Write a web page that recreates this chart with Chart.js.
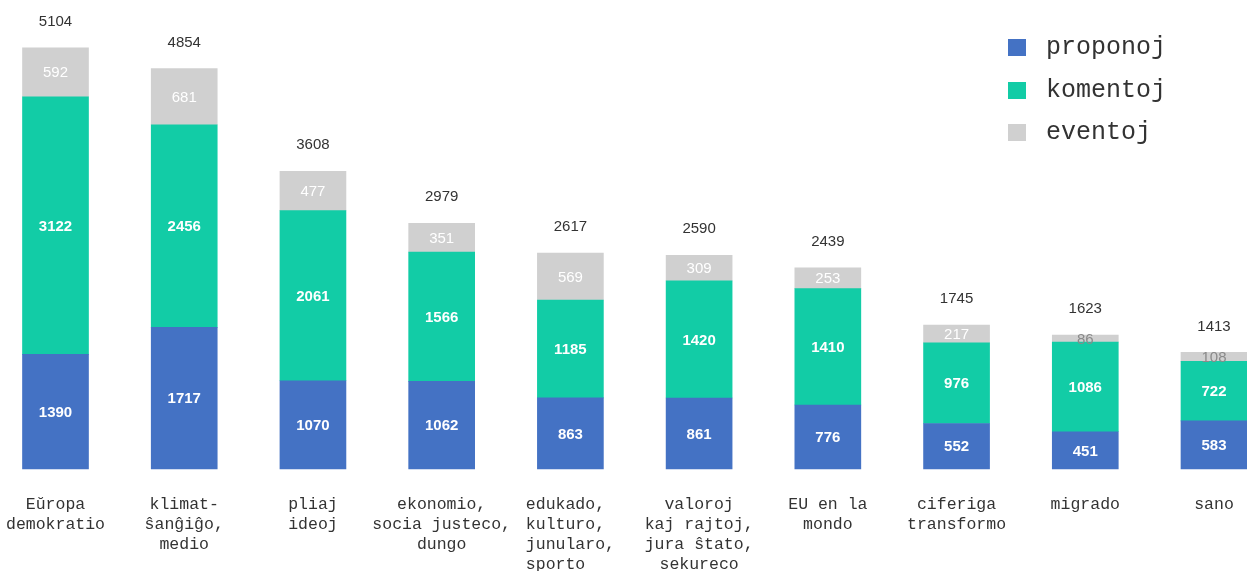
<!DOCTYPE html>
<html>
<head>
<meta charset="utf-8">
<script src="https://cdn.jsdelivr.net/npm/chart.js@4/dist/chart.umd.min.js"></script>
<style>
  html, body { margin: 0; padding: 0; background: #ffffff; }
  #wrap { width: 1247px; height: 571px; position: relative; }
</style>
</head>
<body>
<div id="wrap"><canvas id="c" width="1247" height="571"></canvas></div>
<script>
const categories = [
  ["Eŭropa", "demokratio"],
  ["klimat-", "ŝanĝiĝo,", "medio"],
  ["pliaj", "ideoj"],
  ["ekonomio,", "socia justeco,", "dungo"],
  ["edukado, ", "kulturo, ", "junularo,", "sporto   "],
  ["valoroj", "kaj rajtoj,", "jura ŝtato,", "sekureco"],
  ["EU en la", "mondo"],
  ["ciferiga", "transformo"],
  ["migrado"],
  ["sano"]
];
const proponoj = [1390, 1717, 1070, 1062, 863, 861, 776, 552, 451, 583];
const komentoj = [3122, 2456, 2061, 1566, 1185, 1420, 1410, 976, 1086, 722];
const eventoj  = [592, 681, 477, 351, 569, 309, 253, 217, 86, 108];
const seriesNames = ["proponoj", "komentoj", "eventoj"];

const colors = ["#4472C4", "#12CCA6", "#D0D0D0"];

const labelPlugin = {
  id: 'labels',
  afterDatasetsDraw(chart) {
    const ctx = chart.ctx;
    ctx.save();
    ctx.textAlign = 'center';
    ctx.textBaseline = 'middle';
    const n = chart.data.labels.length;
    const tops = new Array(n).fill(Infinity);
    chart.data.datasets.forEach((ds, di) => {
      const meta = chart.getDatasetMeta(di);
      meta.data.forEach((bar, i) => {
        const top = Math.min(bar.y, bar.base);
        const bottom = Math.max(bar.y, bar.base);
        tops[i] = Math.min(tops[i], top);
        const h = bottom - top;
        const cy = (top + bottom) / 2;
        if (di === 2) {
          ctx.font = '15px "Liberation Sans", Arial, sans-serif';
          ctx.fillStyle = h < 14 ? '#8a8a8a' : '#ffffff';
        } else {
          ctx.font = 'bold 15px "Liberation Sans", Arial, sans-serif';
          ctx.fillStyle = '#ffffff';
        }
        ctx.fillText(String(ds.data[i]), bar.x, cy + 1);
      });
    });
    // totals
    ctx.font = '15px "Liberation Sans", Arial, sans-serif';
    ctx.fillStyle = '#333333';
    const meta0 = chart.getDatasetMeta(0);
    for (let i = 0; i < n; i++) {
      let total = 0;
      chart.data.datasets.forEach(ds => total += ds.data[i]);
      ctx.fillText(String(total), meta0.data[i].x, tops[i] - 26);
    }
    ctx.restore();
  }
};

const legendPlugin = {
  id: 'customLegend',
  afterDraw(chart) {
    const ctx = chart.ctx;
    ctx.save();
    ctx.textAlign = 'left';
    ctx.textBaseline = 'middle';
    ctx.font = '25px "Liberation Mono", "Courier New", monospace';
    const ys = [47, 90, 132];
    chart.data.datasets.forEach((ds, i) => {
      ctx.fillStyle = ds.backgroundColor;
      ctx.fillRect(1008, ys[i] - 8, 18, 17);
      ctx.fillStyle = '#333333';
      ctx.fillText(ds.label, 1046, ys[i]);
    });
    ctx.restore();
  }
};

new Chart(document.getElementById('c'), {
  type: 'bar',
  data: {
    labels: categories,
    datasets: [
      { label: seriesNames[0], data: proponoj, backgroundColor: colors[0] },
      { label: seriesNames[1], data: komentoj, backgroundColor: colors[1] },
      { label: seriesNames[2], data: eventoj, backgroundColor: colors[2] }
    ]
  },
  options: {
    responsive: false,
    animation: false,
    devicePixelRatio: 1,
    layout: { padding: { left: 55.5, right: 33, top: 7, bottom: 0 } },
    datasets: { bar: { barThickness: 66, clip: false, borderWidth: 0 } },
    plugins: {
      legend: { display: false },
      tooltip: { enabled: false }
    },
    scales: {
      x: {
        stacked: true,
        offset: false,
        grid: { display: false, drawTicks: false },
        border: { display: false },
        ticks: {
          autoSkip: false,
          maxRotation: 0,
          minRotation: 0,
          padding: 26,
          color: '#333333',
          font: { family: '"Liberation Mono", "Courier New", monospace', size: 16.5, lineHeight: 1.2 }
        },
        afterFit(scale) {
          scale.height = 102;
          scale.paddingLeft = 0;
          scale.paddingRight = 0;
        }
      },
      y: {
        stacked: true,
        display: false,
        min: 0,
        max: 5600
      }
    }
  },
  plugins: [labelPlugin, legendPlugin]
});
</script>
</body>
</html>
